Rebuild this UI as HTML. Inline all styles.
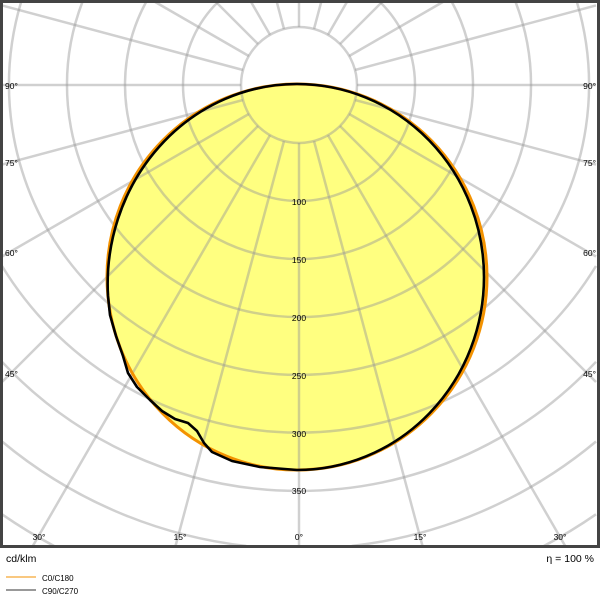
<!DOCTYPE html>
<html><head><meta charset="utf-8"><style>
html,body{margin:0;padding:0;background:#fff;width:600px;height:600px;overflow:hidden;}
svg{display:block;font-family:"Liberation Sans",Arial,sans-serif;}
</style></head><body>
<svg width="600" height="600" viewBox="0 0 600 600" xmlns="http://www.w3.org/2000/svg">
<rect width="600" height="600" fill="#fff"/>
<ellipse cx="297" cy="277" rx="190" ry="193" fill="#ffff80"/>
<g fill="none" stroke="rgba(150,150,150,0.45)" stroke-width="2.5">
  <circle cx="299" cy="85" r="58"/>
  <path d="M218,2 A116,116 0 1 0 380,2"/>
  <path d="M146.1,2 A174,174 0 1 0 451.9,2"/>
  <path d="M82.4,2 A232,232 0 1 0 515.6,2"/>
  <path d="M21.1,2 A290,290 0 1 0 576.9,2"/>
  <path d="M2,266 A348,348 0 0 0 596,266"/>
  <path d="M2,361.8 A406,406 0 0 0 596,361.8"/>
  <path d="M2,441.5 A464,464 0 0 0 246.3,546"/>
  <path d="M351.7,546 A464,464 0 0 0 596,441.5"/>
  <path d="M2,514.3 A522,522 0 0 0 54.1,546"/>
  <path d="M543.9,546 A522,522 0 0 0 596,514.3"/>
  <line x1="299" y1="143" x2="299" y2="546"/>
  <line x1="284" y1="141" x2="175.5" y2="546"/>
  <line x1="314" y1="141" x2="422.5" y2="546"/>
  <line x1="270" y1="135.2" x2="32.8" y2="546"/>
  <line x1="328" y1="135.2" x2="565.2" y2="546"/>
  <line x1="258" y1="126" x2="2" y2="382"/>
  <line x1="340" y1="126" x2="596" y2="382"/>
  <line x1="248.8" y1="114" x2="2" y2="256.5"/>
  <line x1="349.2" y1="114" x2="596" y2="256.5"/>
  <line x1="243" y1="100" x2="2" y2="164.6"/>
  <line x1="355" y1="100" x2="596" y2="164.6"/>
  <line x1="241" y1="85" x2="2" y2="85"/>
  <line x1="357" y1="85" x2="596" y2="85"/>
  <line x1="243" y1="70" x2="2" y2="5.4"/>
  <line x1="355" y1="70" x2="596" y2="5.4"/>
  <line x1="248.8" y1="56" x2="155.2" y2="2"/>
  <line x1="349.2" y1="56" x2="442.8" y2="2"/>
  <line x1="258" y1="44" x2="216" y2="2"/>
  <line x1="340" y1="44" x2="382" y2="2"/>
  <line x1="270" y1="34.8" x2="251.1" y2="2"/>
  <line x1="328" y1="34.8" x2="346.9" y2="2"/>
  <line x1="284" y1="29" x2="276.8" y2="2"/>
  <line x1="314" y1="29" x2="321.2" y2="2"/>
  <line x1="299" y1="27" x2="299" y2="2"/>
</g>
<ellipse cx="297" cy="277" rx="190" ry="193" fill="none" stroke="#f39200" stroke-width="3"/>
<path d="M297,84 A187,193 0 0 1 297,470 L260,467 L232,461 L212,452 L204,443 L197,431 L188,423 L175,419 L162,411 L150,400 L137,387 L128,373 L123,356 L116,336 L110,315 L108,296 A189,200 0 0 1 297,84 Z" fill="none" stroke="#000" stroke-width="2.6" stroke-linejoin="round"/>
<g font-size="8.5" fill="#000" text-anchor="middle">
  <text x="299" y="205">100</text>
  <text x="299" y="263">150</text>
  <text x="299" y="321">200</text>
  <text x="299" y="379">250</text>
  <text x="299" y="437">300</text>
  <text x="299" y="494">350</text>
  <text x="39" y="540">30°</text>
  <text x="180" y="540">15°</text>
  <text x="299" y="540">0°</text>
  <text x="420" y="540">15°</text>
  <text x="560" y="540">30°</text>
</g>
<g font-size="8.5" fill="#000">
  <text x="5" y="89">90°</text>
  <text x="5" y="166">75°</text>
  <text x="5" y="256">60°</text>
  <text x="5" y="377">45°</text>
</g>
<g font-size="8.5" fill="#000" text-anchor="end">
  <text x="596" y="89">90°</text>
  <text x="596" y="166">75°</text>
  <text x="596" y="256">60°</text>
  <text x="596" y="377">45°</text>
</g>
<rect x="1.5" y="1.5" width="597" height="545" fill="none" stroke="#444" stroke-width="3"/>
<text x="6" y="562" font-size="10.5" fill="#000">cd/klm</text>
<text x="594" y="562" font-size="10.5" fill="#000" text-anchor="end">η = 100 %</text>
<line x1="6" y1="577" x2="36" y2="577" stroke="#f39200" stroke-width="1"/>
<line x1="6" y1="590" x2="36" y2="590" stroke="#333" stroke-width="1"/>
<text x="42" y="581" font-size="8" fill="#000">C0/C180</text>
<text x="42" y="594" font-size="8" fill="#000">C90/C270</text>
</svg>
</body></html>
